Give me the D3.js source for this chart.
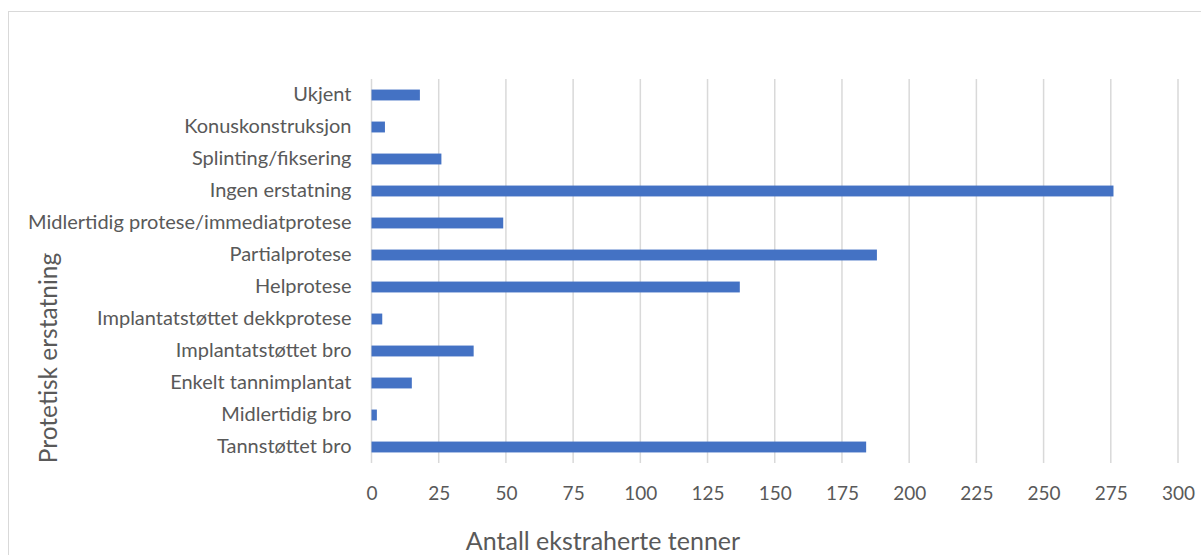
<!DOCTYPE html>
<html>
<head>
<meta charset="utf-8">
<script src="https://cdn.jsdelivr.net/npm/d3@7"></script>
<style>
  body { margin: 0; background: #fff; }
  svg { display: block; }
  svg text { font-family: Lato, 'Open Sans', sans-serif; }
</style>
</head>
<body>
<svg id="chart" width="1201" height="555"></svg>
<script>
// categories from top to bottom
const categories = [
  'Ukjent ',
  'Konuskonstruksjon',
  'Splinting/fiksering',
  'Ingen erstatning',
  'Midlertidig protese/immediatprotese',
  'Partialprotese',
  'Helprotese',
  'Implantatstøttet dekkprotese',
  'Implantatstøttet bro',
  'Enkelt tannimplantat',
  'Midlertidig bro',
  'Tannstøttet bro'
];
const values = [18, 5, 26, 276, 49, 188, 137, 4, 38, 15, 2, 184];
const xTicks = [0, 25, 50, 75, 100, 125, 150, 175, 200, 225, 250, 275, 300];
const xTitle = 'Antall ekstraherte tenner';
const yTitle = 'Protetisk erstatning';

const svg = d3.select('#chart');
const margin = { top: 79, right: 23, bottom: 92, left: 371.5 };
const width = +svg.attr('width') - margin.left - margin.right;
const height = +svg.attr('height') - margin.top - margin.bottom;

// outer chart border (runs off the right and bottom edge)
svg.append('rect')
  .attr('x', 8.5).attr('y', 11.5)
  .attr('width', 1300).attr('height', 700)
  .attr('fill', 'none')
  .attr('stroke', '#d9d9d9')
  .attr('stroke-width', 1);

const g = svg.append('g')
  .attr('transform', `translate(${margin.left},${margin.top})`);

const x = d3.scaleLinear().domain([0, 300]).range([0, width]);
const y = d3.scaleBand().domain(categories).range([0, height]).paddingInner(0.66).paddingOuter(0.33);

// gridlines
g.append('g')
  .selectAll('line')
  .data(xTicks)
  .join('line')
  .attr('x1', d => x(d)).attr('x2', d => x(d))
  .attr('y1', 0).attr('y2', height)
  .attr('stroke', '#d9d9d9')
  .attr('stroke-width', 1.5);

// bars
g.append('g')
  .selectAll('rect')
  .data(values)
  .join('rect')
  .attr('x', x(0))
  .attr('y', (d, i) => y(categories[i]))
  .attr('width', d => x(d) - x(0))
  .attr('height', y.bandwidth())
  .attr('fill', '#4472c4');

// x axis
const xAxis = g.append('g')
  .attr('transform', `translate(0,${height})`)
  .call(d3.axisBottom(x).tickValues(xTicks).tickSize(0).tickPadding(24));
xAxis.select('.domain').remove();
xAxis.attr('font-family', null).attr('font-size', null);
xAxis.selectAll('text')
  .attr('fill', '#595959')
  .style('font-size', '19px');

// y axis
const yAxis = g.append('g')
  .call(d3.axisLeft(y).tickSize(0).tickPadding(20));
yAxis.select('.domain').remove();
yAxis.attr('font-family', null).attr('font-size', null);
yAxis.selectAll('text')
  .attr('fill', '#595959')
  .style('font-size', '20px');

// axis titles
svg.append('text')
  .attr('x', 603)
  .attr('y', 550)
  .attr('text-anchor', 'middle')
  .attr('fill', '#595959')
  .style('font-size', '25px')
  .text(xTitle);

svg.append('text')
  .attr('transform', 'translate(57,358) rotate(-90)')
  .attr('text-anchor', 'middle')
  .attr('fill', '#595959')
  .style('font-size', '24.5px')
  .text(yTitle);
</script>
</body>
</html>
